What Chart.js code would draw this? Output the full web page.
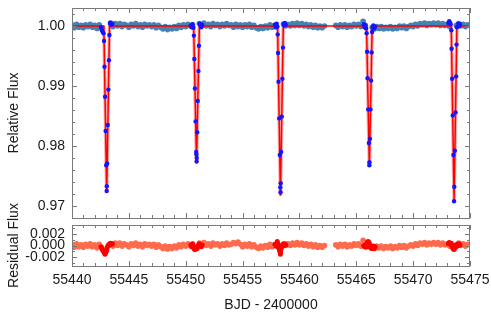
<!DOCTYPE html>
<html>
<head>
<meta charset="utf-8">
<script src="https://cdn.jsdelivr.net/npm/chart.js@4.4.1/dist/chart.umd.min.js"></script>
<style>
  body { margin: 0; background: #fff; }
  #wrap { position: relative; width: 491px; height: 312px; overflow: hidden; }
  canvas { display: block; position: absolute; left: 0; }
  #fluxChart { top: 0; }
  #residChart { top: 180px; }
</style>
</head>
<body>
<div id="wrap">
<canvas id="fluxChart" width="491" height="222"></canvas>
<canvas id="residChart" width="491" height="134"></canvas>
</div>
<script>
// light curve + residuals

// out-of-transit photometry (BJD - 2400000)
const bandTimes = [
  55440.0,55440.2,55440.4,55440.6,55440.8,
  55441.0,55441.2,55441.4,55441.6,55441.8,
  55442.0,55442.2,55442.4,55442.6,
  55443.4,55443.6,55443.8,
  55444.0,55444.2,55444.4,55444.6,55444.8,
  55445.0,55445.2,55445.4,55445.6,55445.8,
  55446.0,55446.2,55446.4,55446.6,55446.8,
  55447.0,55447.2,55447.4,55447.6,55447.8,
  55448.0,55448.2,55448.4,55448.6,55448.8,
  55449.0,55449.2,55449.4,55449.6,55449.8,
  55450.0,55450.2,55450.4,55450.6,
  55451.2,55451.4,55451.6,55451.8,
  55452.0,55452.2,55452.4,55452.6,55452.8,
  55453.0,55453.2,55453.4,55453.6,55453.8,
  55454.0,55454.2,55454.4,55454.6,55454.8,
  55455.0,55455.2,55455.4,55455.6,55455.8,
  55456.0,55456.2,55456.4,55456.6,55456.8,
  55457.0,55457.2,55457.4,55457.6,55457.8,
  55458.0,55458.6,55458.8,
  55459.0,55459.2,55459.4,55459.6,55459.8,
  55460.0,55460.2,55460.4,55460.6,55460.8,
  55461.0,55461.2,55461.4,55461.6,55461.8,
  55462.0,55462.2,
  55463.2,55463.4,55463.6,55463.8,
  55464.0,55464.2,55464.4,55464.6,55464.8,
  55465.0,55465.2,55465.4,55465.6,55465.8,
  55466.4,55466.6,55466.8,
  55467.0,55467.2,55467.4,55467.6,55467.8,
  55468.0,55468.2,55468.4,55468.6,55468.8,
  55469.0,55469.2,55469.4,55469.6,55469.8,
  55470.0,55470.2,55470.4,55470.6,55470.8,
  55471.0,55471.2,55471.4,55471.6,55471.8,
  55472.0,55472.2,55472.4,55472.6,55472.8,
  55473.0,55473.2,55473.8,
  55474.0,55474.2,55474.4,55474.6,55474.8,
  55475.0
];
const bandFlux = [
  1.0002,0.9997,1.0003,0.9998,1.0001,
  0.9997,1.0002,0.9999,1.0003,0.9998,
  1.0001,0.9996,1.0002,0.9997,
  1.0003,0.9999,1.0004,
  1.0000,1.0004,0.9999,1.0003,1.0001,
  0.9998,1.0003,1.0000,1.0004,0.9999,
  1.0002,0.9998,1.0003,1.0000,1.0002,
  0.9999,1.0002,0.9997,1.0001,0.9998,
  0.9995,0.9999,0.9994,0.9998,0.9995,
  0.9999,0.9996,1.0001,0.9998,1.0002,
  0.9999,1.0003,1.0000,1.0002,
  1.0004,1.0001,1.0005,1.0000,
  1.0003,0.9999,1.0004,1.0001,1.0003,
  0.9999,1.0003,1.0000,1.0004,1.0001,
  1.0002,0.9998,1.0003,0.9999,1.0002,
  0.9998,1.0002,0.9999,1.0003,0.9998,
  1.0001,0.9997,0.9995,0.9999,0.9996,
  1.0000,0.9997,1.0002,0.9998,1.0001,
  0.9999,1.0003,1.0000,
  1.0003,1.0000,1.0004,1.0001,1.0005,
  1.0001,1.0004,1.0000,1.0003,0.9999,
  1.0002,0.9998,1.0001,0.9997,1.0000,
  0.9997,1.0000,
  1.0001,0.9998,1.0002,0.9999,
  1.0002,0.9998,1.0001,0.9999,1.0003,
  1.0000,1.0003,0.9999,1.0008,1.0001,
  0.9998,0.9995,0.9999,
  0.9996,0.9999,0.9995,0.9998,0.9996,
  0.9999,0.9995,0.9998,0.9996,1.0000,
  0.9997,1.0000,0.9996,0.9999,1.0001,
  0.9999,1.0003,1.0000,1.0004,1.0002,
  1.0005,1.0001,1.0004,1.0002,1.0005,
  1.0002,1.0005,1.0001,1.0004,1.0001,
  1.0003,0.9999,1.0001,
  1.0004,1.0000,1.0003,0.9999,1.0002,
  1.0001
];
const bandResid = [
  0.0002,-0.0003,0.0003,-0.0002,0.0001,
  -0.0003,0.0002,-0.0001,0.0003,-0.0002,
  0.0001,-0.0004,0.0002,-0.0003,
  0.0003,-0.0001,0.0004,
  0.0000,0.0004,-0.0001,0.0003,0.0001,
  -0.0002,0.0003,0.0000,0.0004,-0.0001,
  0.0002,-0.0002,0.0003,0.0000,0.0002,
  -0.0001,0.0002,-0.0003,0.0001,-0.0002,
  -0.0005,-0.0001,-0.0006,-0.0002,-0.0005,
  -0.0001,-0.0004,0.0001,-0.0002,0.0002,
  -0.0001,0.0003,0.0000,0.0002,
  0.0004,0.0001,0.0005,0.0000,
  0.0003,-0.0001,0.0004,0.0001,0.0003,
  -0.0001,0.0003,0.0000,0.0004,0.0001,
  0.0002,0.0005,0.0003,0.0006,0.0002,
  -0.0002,0.0002,-0.0001,0.0003,-0.0002,
  0.0001,-0.0003,-0.0005,-0.0001,-0.0004,
  0.0000,-0.0003,0.0002,-0.0002,0.0001,
  -0.0001,0.0003,0.0000,
  0.0003,0.0000,0.0004,0.0001,0.0005,
  0.0001,0.0004,0.0000,0.0003,-0.0001,
  0.0002,-0.0002,0.0001,-0.0003,0.0000,
  -0.0003,0.0000,
  0.0001,-0.0002,0.0002,-0.0001,
  0.0002,-0.0002,0.0001,-0.0001,0.0003,
  0.0000,0.0003,-0.0001,0.0009,0.0001,
  -0.0002,-0.0005,-0.0001,
  -0.0004,-0.0001,-0.0005,-0.0002,-0.0004,
  -0.0001,-0.0005,-0.0002,-0.0004,0.0000,
  -0.0003,0.0000,-0.0004,-0.0001,0.0001,
  -0.0001,0.0003,0.0000,0.0004,0.0002,
  0.0005,0.0001,0.0004,0.0002,0.0005,
  0.0002,0.0005,0.0001,0.0004,0.0001,
  0.0003,-0.0001,0.0001,
  0.0004,0.0000,0.0003,-0.0001,0.0002,
  0.0001
];

// photometry in the five transit windows
const winTimes = [
  55442.55,55442.62,55442.70,55442.77,
  55442.82,55442.86,55442.91,55442.96,55443.01,55443.05,
  55443.06,55443.09,55443.15,55443.20,55443.25,55443.29,
  55443.33,55443.40,55443.47,55443.55,

  55450.45,55450.52,55450.60,55450.67,
  55450.72,55450.76,55450.81,55450.87,55450.92,55450.94,
  55450.96,55450.97,55451.01,55451.06,55451.12,55451.16,
  55451.22,55451.30,55451.37,55451.45,

  55457.85,55457.92,55458.00,55458.05,
  55458.09,55458.12,55458.16,55458.22,55458.27,55458.32,
  55458.34,55458.35,55458.39,55458.45,55458.50,55458.55,
  55458.60,55458.66,55458.72,55458.80,

  55465.66,55465.73,55465.80,55465.86,
  55465.91,55465.95,55465.99,55466.05,55466.11,55466.15,
  55466.16,55466.20,55466.25,55466.30,55466.35,55466.39,
  55466.44,55466.50,55466.58,55466.65,

  55473.10,55473.17,55473.24,55473.30,
  55473.36,55473.38,55473.43,55473.48,55473.54,55473.60,
  55473.62,55473.67,55473.73,55473.78,55473.82,55473.85,
  55473.90,55473.97,55474.05,55474.12
];
const winFlux = [
  0.9998,0.9993,0.9990,0.9988,
  0.9975,0.9932,0.9882,0.9825,0.9768,0.9725,
  0.9733,0.9771,0.9835,0.9894,0.9943,0.9985,
  1.0005,1.0006,1.0002,1.0004,

  1.0001,0.9998,1.0003,0.9997,
  0.9984,0.9945,0.9896,0.9841,0.9790,0.9786,
  0.9774,0.9780,0.9823,0.9875,0.9925,0.9967,
  1.0004,1.0001,0.9998,1.0002,

  1.0002,0.9998,1.0004,0.9999,
  0.9986,0.9955,0.9907,0.9846,0.9785,0.9731,
  0.9723,0.9738,0.9790,0.9849,0.9912,0.9964,
  1.0004,1.0001,1.0005,1.0002,

  1.0003,0.9998,1.0001,0.9996,
  0.9988,0.9957,0.9913,0.9861,0.9805,0.9768,
  0.9773,0.9812,0.9861,0.9909,0.9956,0.9990,
  0.9997,1.0001,0.9996,0.9999,

  1.0005,1.0008,1.0006,1.0003,
  0.9993,0.9962,0.9912,0.9851,0.9785,0.9708,
  0.9732,0.9792,0.9856,0.9916,0.9969,0.9998,
  0.9999,1.0004,1.0000,1.0003
];
const winResid = [
  -0.0002,-0.0005,-0.0008,-0.0010,
  -0.0011,-0.0013,-0.0015,-0.0012,-0.0010,-0.0008,
  -0.0006,-0.0004,-0.0001,0.0001,0.0000,0.0002,
  0.0003,0.0004,0.0002,0.0003,

  0.0001,-0.0002,0.0003,-0.0003,
  -0.0004,-0.0006,-0.0007,-0.0005,-0.0003,-0.0006,
  -0.0004,-0.0002,-0.0005,-0.0001,0.0000,0.0002,
  0.0003,0.0000,-0.0002,0.0001,

  0.0002,-0.0001,0.0003,0.0007,
  0.0004,0.0001,-0.0003,-0.0006,-0.0010,-0.0015,
  -0.0013,-0.0009,-0.0005,-0.0002,0.0001,-0.0001,
  0.0002,0.0000,0.0003,0.0001,

  0.0000,-0.0002,0.0001,-0.0003,
  0.0002,0.0004,0.0006,0.0007,0.0005,0.0003,
  0.0001,-0.0002,-0.0004,-0.0003,-0.0005,-0.0002,
  -0.0004,-0.0001,-0.0005,-0.0002,

  0.0003,0.0005,0.0004,0.0002,
  0.0004,0.0001,-0.0002,-0.0004,-0.0006,-0.0007,
  -0.0005,-0.0003,0.0000,-0.0002,0.0001,-0.0001,
  0.0002,0.0000,0.0003,0.0001
];

// transit model vertices
const modelTimes = [55440, 55442.80,55443.05,55443.30, 55450.70,55450.95,55451.20,
  55458.08,55458.33,55458.58, 55465.90,55466.15,55466.40, 55473.35,55473.60,55473.85, 55475];
const modelFlux = [1, 1,0.9722,1, 1,0.9772,1, 1,0.9717,1, 1,0.9766,1, 1,0.9710,1, 1];

// axes
const xMajorTicks = [55440, 55445, 55450, 55455, 55460, 55465, 55470, 55475];
const xTickLabels = ['55440', '55445', '55450', '55455', '55460', '55465', '55470', '55475'];
const fluxTicks = [0.97, 0.98, 0.99, 1.00];
const fluxTickLabels = ['0.97', '0.98', '0.99', '1.00'];
const residTicks = [-0.002, 0, 0.002];
const residTickLabels = ['-0.002', '0.000', '0.002'];

const xy = (xs, ys) => xs.map((x, i) => ({ x, y: ys[i] }));

Chart.defaults.font.family = "'Liberation Sans', Arial, Helvetica, sans-serif";
Chart.defaults.font.size = 14;
Chart.defaults.color = '#1a1a1a';
Chart.defaults.animation = false;

// gnuplot-ish frame with inward ticks on all four sides
const frameTicks = {
  id: 'frameTicks',
  afterDatasetsDraw(chart, args, o) {
    const { ctx, chartArea: a, scales } = chart;
    ctx.save();
    ctx.strokeStyle = '#7a7a7a';
    ctx.lineWidth = 1;
    const seg = (x1, y1, x2, y2) => { ctx.beginPath(); ctx.moveTo(x1, y1); ctx.lineTo(x2, y2); ctx.stroke(); };
    const xt = (v, len) => {
      const x = Math.round(scales.x.getPixelForValue(v)) + 0.5;
      seg(x, a.bottom, x, a.bottom - len); seg(x, a.top, x, a.top + len);
    };
    const yt = (v, len) => {
      const y = Math.round(scales.y.getPixelForValue(v)) + 0.5;
      seg(a.left, y, a.left + len, y); seg(a.right, y, a.right - len, y);
    };
    for (let d = 55441; d < 55475; d++) if (d % 5) xt(d, 3);
    xMajorTicks.forEach(v => xt(v, 5));
    o.yMinor.forEach(v => yt(v, 3));
    o.yMajor.forEach(v => yt(v, 5));
    ctx.strokeRect(Math.round(a.left) + 0.5, Math.round(a.top) + 0.5,
      Math.round(a.right - a.left) - 1, Math.round(a.bottom - a.top));
    ctx.restore();
  }
};

// no extra room for half tick labels at the ends of an axis
const noEdgePad = s => { s.paddingTop = 0; s.paddingBottom = 0; s.paddingLeft = 0; s.paddingRight = 0; };

const fluxMinor = [];
for (let v = 0.968; v <= 1.003; v += 0.002) fluxMinor.push(+v.toFixed(3));
const residMinor = [-0.003, -0.001, 0.001, 0.003];

new Chart(document.getElementById('fluxChart'), {
  type: 'scatter',
  data: {
    datasets: [
      {
        label: 'transit data',
        data: xy(winTimes, winFlux),
        backgroundColor: '#1414ff',
        borderWidth: 0,
        pointRadius: 2.2,
        order: 1
      },
      {
        label: 'model',
        data: xy(modelTimes, modelFlux),
        showLine: true,
        borderColor: '#ff0000',
        borderWidth: 1.5,
        pointRadius: 0,
        order: 2
      },
      {
        label: 'model glow',
        data: xy(modelTimes, modelFlux),
        showLine: true,
        borderWidth: 3.5,
        pointRadius: 0,
        segment: {
          borderColor: c => (c.p0.parsed.y === 1 && c.p1.parsed.y === 1) ? 'rgba(0,0,0,0)' : 'rgba(255,40,40,0.4)'
        },
        order: 3
      },
      {
        label: 'data',
        data: xy(bandTimes, bandFlux),
        backgroundColor: '#4682b4',
        borderWidth: 0,
        pointRadius: 2.8,
        order: 4
      }
    ]
  },
  options: {
    responsive: false,
    layout: { padding: { top: 8, right: 21, bottom: 2, left: 0 } },
    plugins: {
      legend: { display: false },
      tooltip: { enabled: false },
      frameTicks: { yMajor: fluxTicks, yMinor: fluxMinor }
    },
    scales: {
      x: { type: 'linear', min: 55440, max: 55475, display: false },
      y: {
        min: 0.968, max: 1.003,
        afterFit: s => { s.width = 72; noEdgePad(s); },
        afterBuildTicks: s => { s.ticks = fluxTicks.map(value => ({ value })); },
        grid: { display: false, drawTicks: false },
        border: { display: false },
        ticks: { padding: 7, autoSkip: false, callback: (v, i) => fluxTickLabels[i] },
        title: { display: true, text: 'Relative Flux', padding: { top: 6, bottom: 0 } }
      }
    }
  },
  plugins: [frameTicks]
});

new Chart(document.getElementById('residChart'), {
  type: 'scatter',
  data: {
    datasets: [
      {
        label: 'transit residuals',
        data: xy(winTimes, winResid),
        backgroundColor: '#ff0000',
        borderWidth: 0,
        pointRadius: 2.5,
        order: 1
      },
      {
        label: 'residuals',
        data: xy(bandTimes, bandResid),
        backgroundColor: '#ff6a4d',
        borderWidth: 0,
        pointRadius: 2.8,
        order: 2
      }
    ]
  },
  options: {
    responsive: false,
    layout: { padding: { top: 45, right: 21, bottom: 0, left: 0 } },
    plugins: {
      legend: { display: false },
      tooltip: { enabled: false },
      frameTicks: { yMajor: residTicks, yMinor: residMinor }
    },
    scales: {
      x: {
        type: 'linear', min: 55440, max: 55475,
        afterFit: s => { s.height = 48; noEdgePad(s); },
        afterBuildTicks: s => { s.ticks = xMajorTicks.map(value => ({ value })); },
        grid: { display: false, drawTicks: false },
        border: { display: false },
        ticks: { padding: 6, maxRotation: 0, autoSkip: false, callback: (v, i) => xTickLabels[i] },
        title: { display: true, text: 'BJD - 2400000', padding: { top: 0, bottom: 0 } }
      },
      y: {
        min: -0.0035, max: 0.0035,
        afterFit: s => { s.width = 72; noEdgePad(s); },
        afterBuildTicks: s => { s.ticks = residTicks.map(value => ({ value })); },
        grid: { display: false, drawTicks: false },
        border: { display: false },
        ticks: { padding: 7, autoSkip: false, callback: (v, i) => residTickLabels[i] },
        title: { display: true, text: 'Residual Flux', padding: { top: 6, bottom: 0 } }
      }
    }
  },
  plugins: [frameTicks]
});
</script>
</body>
</html>
